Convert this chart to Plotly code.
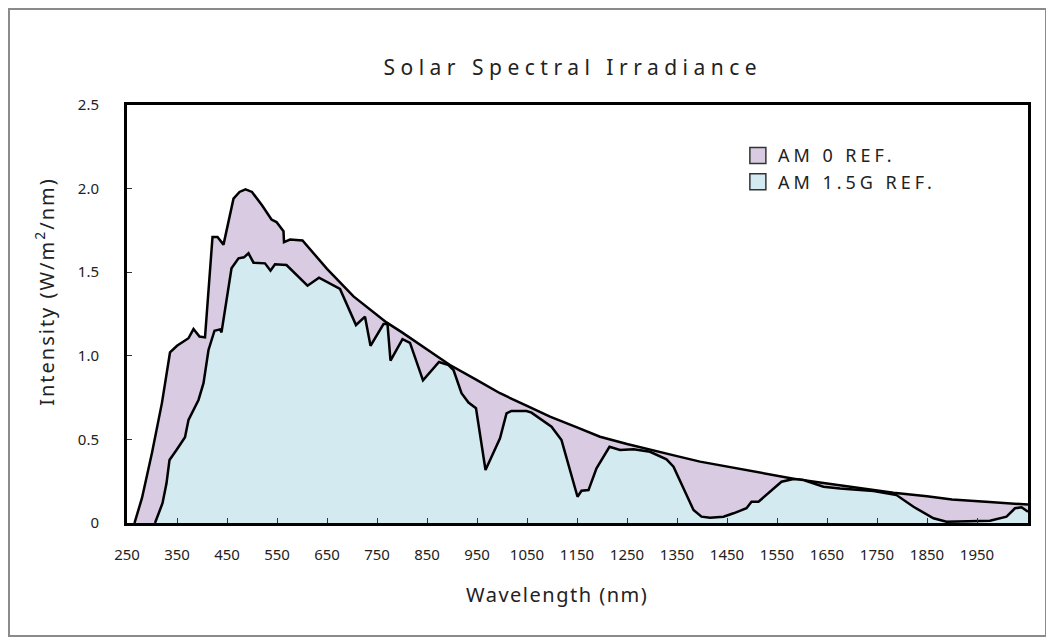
import plotly.graph_objects as go

# AM0 reference spectrum (nm, W/m2/nm)
am0_nm = [265, 280, 300, 320, 336, 350, 373, 383, 395, 406, 421, 431, 443, 463, 475, 487,
          500, 520, 539, 549, 563, 564, 576, 601, 650, 703, 769, 800, 876, 896, 950, 996,
          1050, 1096, 1150, 1196, 1250, 1296, 1350, 1396, 1450, 1500, 1583, 1650, 1700,
          1783, 1850, 1900, 1975, 2052]
am0_val = [0.0, 0.15, 0.42, 0.72, 1.02, 1.06, 1.105, 1.16, 1.115, 1.11, 1.71, 1.71, 1.665,
           1.94, 1.98, 1.995, 1.98, 1.9, 1.815, 1.80, 1.745, 1.68, 1.695, 1.69, 1.52, 1.355,
           1.2, 1.14, 0.985, 0.945, 0.855, 0.776, 0.70, 0.636, 0.572, 0.516, 0.472, 0.437,
           0.40, 0.367, 0.337, 0.31, 0.265, 0.236, 0.215, 0.181, 0.160, 0.14, 0.125, 0.11]

# AM1.5G reference spectrum
am15_nm = [306, 321, 329, 335, 349, 366, 373, 393, 403, 413, 425, 436, 439, 459, 473, 484,
           493, 503, 526, 537, 546, 569, 611, 634, 676, 708, 726, 737, 763, 771, 777, 801,
           816, 842, 874, 893, 903, 919, 933, 948, 967, 996, 1009, 1019, 1049, 1059, 1099,
           1119, 1151, 1159, 1173, 1189, 1215, 1236, 1263, 1296, 1329, 1343, 1383, 1399,
           1416, 1443, 1463, 1489, 1499, 1513, 1559, 1583, 1603, 1643, 1676, 1743, 1789,
           1823, 1863, 1889, 1976, 2009, 2026, 2039, 2052]
am15_val = [0.0, 0.118, 0.237, 0.377, 0.437, 0.513, 0.616, 0.736, 0.836, 1.035, 1.15, 1.158,
            1.14, 1.523, 1.583, 1.589, 1.613, 1.557, 1.553, 1.509, 1.547, 1.543, 1.419,
            1.467, 1.40, 1.184, 1.234, 1.06, 1.19, 1.19, 0.971, 1.099, 1.077, 0.853, 0.963,
            0.945, 0.915, 0.776, 0.72, 0.686, 0.317, 0.507, 0.656, 0.67, 0.67, 0.66, 0.576,
            0.496, 0.157, 0.193, 0.197, 0.327, 0.456, 0.437, 0.441, 0.426, 0.381, 0.337,
            0.078, 0.038, 0.032, 0.038, 0.058, 0.088, 0.127, 0.127, 0.247, 0.263, 0.257,
            0.217, 0.207, 0.192, 0.167, 0.097, 0.028, 0.008, 0.014, 0.038, 0.088, 0.094, 0.068]

x_ticks = [250, 350, 450, 550, 650, 750, 850, 950, 1050, 1150, 1250, 1350, 1450, 1550,
           1650, 1750, 1850, 1950]
y_ticks = [0, 0.5, 1.0, 1.5, 2.0, 2.5]
y_tick_text = ["0", "0.5", "1.0", "1.5", "2.0", "2.5"]

series_names = ["AM 0 REF.", "AM 1.5G REF."]
title_text = "Solar Spectral Irradiance"
x_title = "Wavelength (nm)"
y_title = "Intensity (W/m<sup>2</sup>/nm)"

purple = "#d9cce2"
blue = "#d2eaf0"
font = "Noto Sans"
txt = "#222"


def spaced(s, px):
    return f'<span style="letter-spacing:{px}px">{s}</span>'


fig = go.Figure()
fig.add_trace(go.Scatter(x=am0_nm, y=am0_val, mode="lines", fill="tozeroy",
                         fillcolor=purple, line=dict(color="black", width=2.5),
                         showlegend=False, hoverinfo="skip"))
fig.add_trace(go.Scatter(x=am15_nm, y=am15_val, mode="lines", fill="tozeroy",
                         fillcolor=blue, line=dict(color="black", width=2.5),
                         showlegend=False, hoverinfo="skip"))
# legend swatches
for nm, col in zip(series_names, [purple, blue]):
    fig.add_trace(go.Scatter(x=[None], y=[None], mode="markers", name=spaced(nm, 4),
                             marker=dict(symbol="square", size=16, color=col,
                                         line=dict(color="#333", width=1.5))))

fig.update_layout(
    width=1046, height=635,
    margin=dict(l=119, r=26, t=97, b=120),
    paper_bgcolor="white", plot_bgcolor="white",
    font=dict(family=font, color=txt),
    title=dict(text=spaced(title_text, 5.5), x=0.540, xanchor="center",
               y=0.9055, yanchor="middle", font=dict(size=21, color=txt)),
    legend=dict(x=0.678, y=0.923, xanchor="left", yanchor="top",
                font=dict(size=18, color=txt), itemsizing="trace",
                bgcolor="rgba(0,0,0,0)", tracegroupgap=0),
    xaxis=dict(range=[250, 2052], tickvals=x_ticks, ticks="inside", ticklen=5,
               tickcolor="#333", tickwidth=1, showgrid=False, zeroline=False,
               showline=True, linecolor="black", linewidth=3, mirror=True,
               tickfont=dict(size=15, color=txt), ticklabelstandoff=16),
    yaxis=dict(range=[0, 2.5], tickvals=y_ticks, ticktext=y_tick_text, ticks="inside",
               ticklen=5, tickcolor="#333", tickwidth=1, showgrid=False, zeroline=False,
               showline=True, linecolor="black", linewidth=3, mirror=True,
               tickfont=dict(size=15, color=txt), ticklabelstandoff=22),
    annotations=[
        dict(text=spaced(x_title, 1.5), xref="paper", yref="paper",
             x=0.477, y=-0.172, xanchor="center", yanchor="middle",
             showarrow=False, font=dict(size=20, color=txt)),
        dict(text=spaced(y_title, 2), xref="paper", yref="paper",
             x=-0.091, y=0.553, xanchor="center", yanchor="middle", textangle=-90,
             showarrow=False, font=dict(size=20, color=txt)),
    ],
    shapes=[dict(type="rect", xref="paper", yref="paper", x0=-0.1310, x1=1.0200,
                 y0=-0.2703, y1=1.2297, line=dict(color="#8a8a8a", width=2),
                 fillcolor="rgba(0,0,0,0)", layer="below")],
)

fig.write_html("out.html")
